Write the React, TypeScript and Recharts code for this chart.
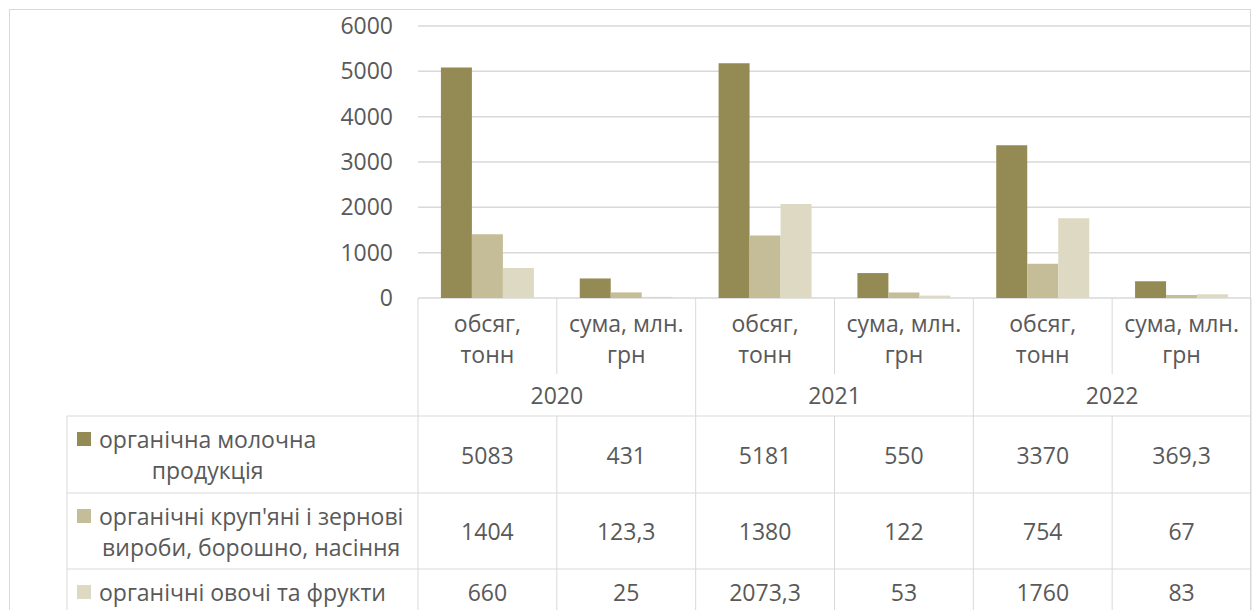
import React from 'react';
import { BarChart, Bar, XAxis, YAxis, CartesianGrid } from 'recharts';

// categories / labels
const years = ['2020', '2021', '2022'];
const measures = [['обсяг,', 'тонн'], ['сума, млн.', 'грн']];
const seriesNames = [
  'органічна молочна продукція',
  "органічні круп'яні і зернові вироби, борошно, насіння",
  'органічні овочі та фрукти'
];
const seriesLines = [
  ['органічна молочна', 'продукція'],
  ["органічні круп'яні і зернові", 'вироби, борошно, насіння'],
  ['органічні овочі та фрукти']
];

// values, order: 2020 обсяг, 2020 сума, 2021 обсяг, 2021 сума, 2022 обсяг, 2022 сума
const dairy = [5083, 431, 5181, 550, 3370, 369.3];
const grain = [1404, 123.3, 1380, 122, 754, 67];
const vegFruit = [660, 25, 2073.3, 53, 1760, 83];
const seriesValues = [dairy, grain, vegFruit];

const yTicks = [0, 1000, 2000, 3000, 4000, 5000, 6000];

const colors = ['#948A54', '#C4BD97', '#DDD9C3'];
const GRID = '#D9D9D9';
const TEXT = '#595959';
const FONT = "'Open Sans', sans-serif";
const FS = 23;

const chartData = years.flatMap((year) =>
  measures.map((lines) => ({ year, lines, key: year + ' ' + lines.join(' ') }))
).map((c, i) => ({
  ...c,
  s0: dairy[i],
  s1: grain[i],
  s2: vegFruit[i]
}));

const fmt = (v: number) => String(v).replace('.', ',');

// row offsets below the axis line
const SUB1 = 25, SUB2 = 56, SUB_END = 76, YEAR = 97;
const H1 = 118, ROW1 = 157, H2 = 195, ROW2 = 233, H3 = 271, ROW3 = 294;
const BOTTOM = 610;
const LEGEND_LEFT = 67;

function CategoryTick(props: any) {
  const { x, y, payload, index } = props;
  const half = payload.offset;
  const left = x - half;
  const right = x + half;
  const item = chartData[index];
  const T = y;
  const txt = { fill: TEXT, fontSize: FS, fontFamily: FONT, textAnchor: 'middle' as const, dominantBaseline: 'central' as const };
  const endOfYear = index % 2 === 1;
  const rows = [ROW1, ROW2, ROW3];
  return (
    <g>
      <text x={x} y={T + SUB1} {...txt}>{item.lines[0]}</text>
      <text x={x} y={T + SUB2} {...txt}>{item.lines[1]}</text>
      {!endOfYear && <text x={right} y={T + YEAR} {...txt}>{item.year}</text>}
      {seriesValues.map((vals, r) => (
        <text key={r} x={x} y={T + rows[r]} {...txt}>{fmt(vals[index])}</text>
      ))}
      {endOfYear ? (
        <line x1={right} x2={right} y1={T} y2={BOTTOM} stroke={GRID} />
      ) : (
        <>
          <line x1={right} x2={right} y1={T} y2={T + SUB_END} stroke={GRID} />
          <line x1={right} x2={right} y1={T + H1} y2={BOTTOM} stroke={GRID} />
        </>
      )}
      {[H1, H2, H3].map((h) => (
        <line key={h} x1={index === 0 ? LEGEND_LEFT : left} x2={right} y1={T + h} y2={T + h} stroke={GRID} />
      ))}
      {index === 0 && (
        <>
          <line x1={left} x2={left} y1={T} y2={BOTTOM} stroke={GRID} />
          <line x1={LEGEND_LEFT} x2={LEGEND_LEFT} y1={T + H1} y2={BOTTOM} stroke={GRID} />
        </>
      )}
    </g>
  );
}

const legendTops = [439, 516, 592];

export default function App() {
  return (
    <div style={{ position: 'relative', width: 1258, height: 610, overflow: 'hidden', background: '#fff' }}>
      <style>{'body{margin:0;overflow:hidden}'}</style>
      <div style={{ position: 'absolute', left: 9, top: 9, width: 1242, height: 700, border: '1px solid ' + GRID, boxSizing: 'border-box' }} />
      <BarChart
        width={1258}
        height={610}
        data={chartData}
        margin={{ top: 26, right: 7, left: 0, bottom: 0 }}
        barCategoryGap="16.5%"
        barGap={0}
        style={{ position: 'absolute', left: 0, top: 0 }}
      >
        <CartesianGrid vertical={false} stroke={GRID} strokeWidth={1.5} />
        <XAxis
          dataKey="key"
          height={312}
          interval={0}
          tickLine={false}
          axisLine={false}
          tickSize={0}
          tickMargin={0}
          tick={<CategoryTick />}
        />
        <YAxis
          width={418}
          domain={[0, 6000]}
          ticks={yTicks}
          tickLine={false}
          axisLine={false}
          tickMargin={19}
          tick={{ fill: TEXT, fontSize: FS, fontFamily: FONT }}
        />
        {seriesNames.map((name, i) => (
          <Bar key={name} dataKey={'s' + i} name={name} fill={colors[i]} isAnimationActive={false} />
        ))}
      </BarChart>
      {seriesLines.map((lines, i) => (
        <div
          key={i}
          style={{
            position: 'absolute',
            left: 77,
            top: legendTops[i] - 15.5,
            display: 'flex',
            alignItems: 'flex-start',
            fontFamily: FONT,
            fontSize: FS,
            color: TEXT
          }}
        >
          <div style={{ width: 14, height: 14, background: colors[i], marginTop: 8.5, marginRight: 8 }} />
          <div style={{ textAlign: 'center', lineHeight: '31px', whiteSpace: 'nowrap' }}>
            {lines.map((l, k) => (
              <div key={k}>{l}</div>
            ))}
          </div>
        </div>
      ))}
    </div>
  );
}
